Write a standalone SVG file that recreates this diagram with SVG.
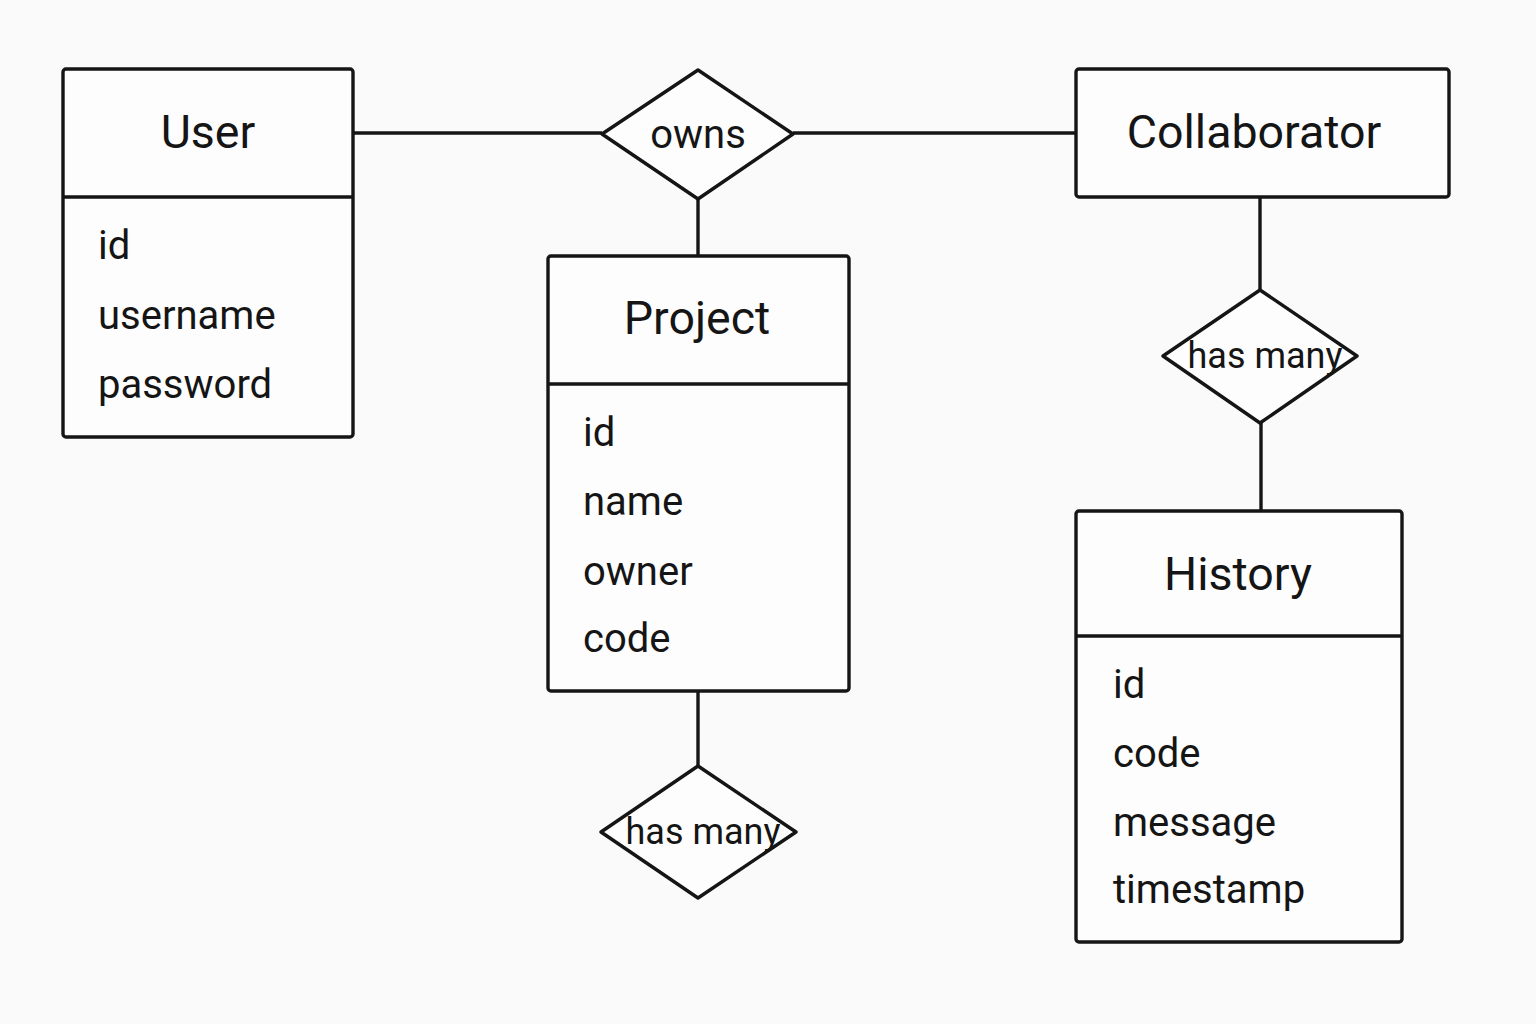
<svg xmlns="http://www.w3.org/2000/svg" width="1536" height="1024" viewBox="0 0 1536 1024">
<style>
.box{fill:#fdfdfd;stroke:#151515;stroke-width:3.4}
.ln{stroke:#151515;stroke-width:3.4;fill:none}
.dia{fill:#fdfdfd;stroke:#151515;stroke-width:3.4;stroke-linejoin:round}
.t{font-family:Roboto,"Liberation Sans",sans-serif;fill:#151515}
.title{font-size:46.5px;text-anchor:middle}
.attr{font-size:40px}
.rel{font-size:36px;text-anchor:middle}
.owns{font-size:40px;text-anchor:middle}
</style>
<rect width="1536" height="1024" fill="#fafafa"/>
<g id="connectors">
<line class="ln" x1="353" y1="133" x2="602" y2="133"/>
<line class="ln" x1="793" y1="133" x2="1076" y2="133"/>
<line class="ln" x1="698" y1="199" x2="698" y2="256"/>
<line class="ln" x1="698" y1="691" x2="698" y2="766"/>
<line class="ln" x1="1260" y1="197" x2="1260" y2="290"/>
<line class="ln" x1="1261" y1="423" x2="1261" y2="511"/>
</g>
<g id="user">
<rect class="box" x="63" y="69" width="290" height="368" rx="3"/>
<line class="ln" x1="63" y1="197" x2="353" y2="197"/>
<text class="t title" x="208" y="148">User</text>
<text class="t attr" x="98" y="259">id</text>
<text class="t attr" x="98" y="329">username</text>
<text class="t attr" x="98" y="398">password</text>
</g>
<g id="owns">
<polygon class="dia" points="698,70 793,134 698,199 602,134"/>
<text class="t owns" x="698" y="148">owns</text>
</g>
<g id="collaborator">
<rect class="box" x="1076" y="69" width="373" height="128" rx="3"/>
<text class="t title" x="1254" y="148">Collaborator</text>
</g>
<g id="project">
<rect class="box" x="548" y="256" width="301" height="435" rx="3"/>
<line class="ln" x1="548" y1="384" x2="849" y2="384"/>
<text class="t title" x="697" y="334">Project</text>
<text class="t attr" x="583" y="446">id</text>
<text class="t attr" x="583" y="515">name</text>
<text class="t attr" x="583" y="585">owner</text>
<text class="t attr" x="583" y="652">code</text>
</g>
<g id="has-many-project">
<polygon class="dia" points="698,766 796,832 698,898 601,832"/>
<text class="t rel" x="703" y="844">has many</text>
</g>
<g id="has-many-collab">
<polygon class="dia" points="1260,290 1357,356 1260,423 1163,356"/>
<text class="t rel" x="1265" y="368">has many</text>
</g>
<g id="history">
<rect class="box" x="1076" y="511" width="326" height="431" rx="3"/>
<line class="ln" x1="1076" y1="636" x2="1402" y2="636"/>
<text class="t title" x="1238" y="590">History</text>
<text class="t attr" x="1113" y="698">id</text>
<text class="t attr" x="1113" y="767">code</text>
<text class="t attr" x="1113" y="836">message</text>
<text class="t attr" x="1113" y="903">timestamp</text>
</g>
</svg>
